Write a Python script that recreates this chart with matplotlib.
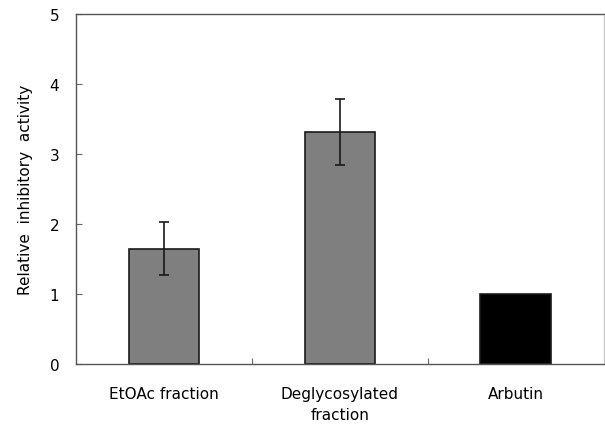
import matplotlib.pyplot as plt
import numpy as np

plt.rcParams['font.family'] = ['DejaVu Sans']

# data
categories = ['EtOAc fraction', 'Deglycosylated\nfraction', 'Arbutin']
values = [1.65, 3.32, 1.0]
errors = [0.38, 0.47, 0.0]
colors = ['#7f7f7f', '#7f7f7f', '#000000']
yticks = [0, 1, 2, 3, 4, 5]

fig = plt.figure(figsize=(6.05, 4.31), dpi=100)
ax = fig.add_axes([0.1256, 0.153, 0.872, 0.812])

x = np.arange(len(categories))
ax.bar(x, values, width=0.4, color=colors, edgecolor='#1a1a1a', linewidth=1.2, zorder=2)
has_err = [e > 0 for e in errors]
ax.errorbar(x[has_err], np.array(values)[has_err], yerr=np.array(errors)[has_err],
            fmt='none', ecolor='#1a1a1a', elinewidth=1.2, capsize=3.5, capthick=1.2, zorder=3)

ax.set_xlim(-0.5, len(categories) - 0.5)
ax.set_ylim(0, 5)
ax.set_yticks(yticks)
ax.set_xticks(x)
ax.set_xticklabels(categories, fontsize=11, linespacing=1.45)
ax.tick_params(axis='y', direction='in', length=4, width=0.8, color='#666666', labelsize=11, pad=12)
ax.tick_params(axis='x', length=0, pad=16)
# minor ticks between categories (inward)
ax.set_xticks([0.5, 1.5], minor=True)
ax.tick_params(axis='x', which='minor', direction='in', length=4, width=0.8, color='#666666')

for s in ax.spines.values():
    s.set_color('#555555')
    s.set_linewidth(1.0)
ax.spines['right'].set_color('#c8c8c8')

ax.set_ylabel('Relative  inhibitory  activity', fontsize=11, labelpad=12)

fig.savefig('out.png', dpi=100)
